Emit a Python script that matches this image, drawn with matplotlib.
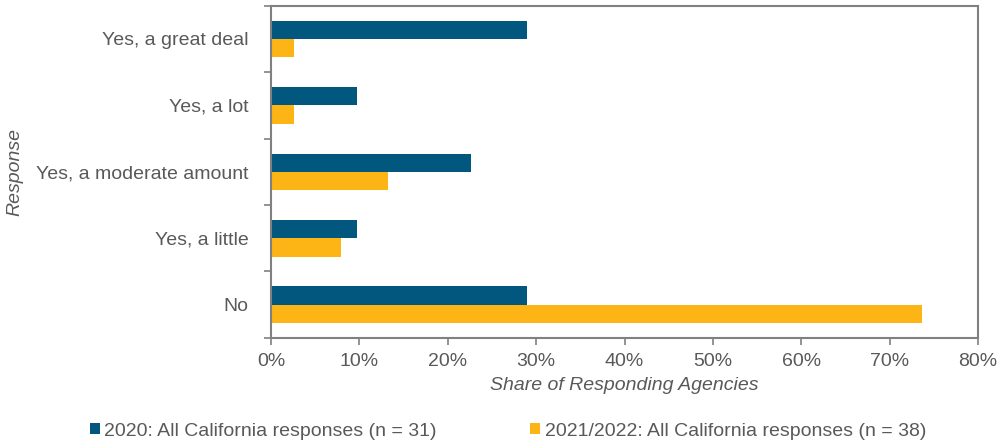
import matplotlib.pyplot as plt
import numpy as np
from matplotlib.ticker import PercentFormatter

# Data (share of responding agencies, %)
responses = ['Yes, a great deal', 'Yes, a lot', 'Yes, a moderate amount', 'Yes, a little', 'No']
share_2020 = [29.0, 9.7, 22.6, 9.7, 29.0]
share_2122 = [2.6, 2.6, 13.2, 7.9, 73.7]
series_labels = ['2020: All California responses (n = 31)',
                 '2021/2022: All California responses (n = 38)']

plt.rcParams['font.family'] = ['Liberation Sans', 'DejaVu Sans']
grey = '#595959'
blue = '#02577F'
gold = '#FDB515'
fs = 14

fig = plt.figure(figsize=(10, 4.44), dpi=100)
ax = fig.add_axes([0.271, 0.239, 0.707, 0.748])

y = np.arange(len(responses))
h = 0.275
ax.barh(y - h / 2, share_2020, height=h, color=blue, label=series_labels[0])
ax.barh(y + h / 2, share_2122, height=h, color=gold, label=series_labels[1])

ax.set_xlim(0, 80)
ax.set_ylim(len(responses) - 0.5, -0.5)
ax.xaxis.set_major_formatter(PercentFormatter(decimals=0))
ax.set_xticks(np.arange(0, 81, 10))

# category labels centred, tick marks at group boundaries
ax.set_yticks(y)
ax.set_yticklabels(responses)
ax.set_yticks(np.arange(-0.5, len(responses)), minor=True)
ax.tick_params(axis='y', which='major', length=0, pad=16, labelsize=fs, labelcolor=grey)
ax.tick_params(axis='y', which='minor', length=5, color='#808080', width=1.2, direction='out')
ax.tick_params(axis='x', length=5, color='#808080', width=1.2, labelsize=fs,
               labelcolor=grey, pad=6)

for s in ax.spines.values():
    s.set_color('#808080')
    s.set_linewidth(1.5)

ax.set_xlabel('Share of Responding Agencies', fontsize=fs, color=grey, style='italic', labelpad=5)
ax.set_ylabel('Response', fontsize=fs, color=grey, style='italic')
ax.yaxis.set_label_coords(-0.35, 0.5)

fig.legend(loc='lower center', bbox_to_anchor=(0.508, -0.03), ncol=2, frameon=False,
           fontsize=fs, labelcolor=grey, handlelength=0.5, handleheight=0.5,
           handletextpad=0.25, columnspacing=4.8)

plt.savefig('out.png', dpi=100)
plt.close()
